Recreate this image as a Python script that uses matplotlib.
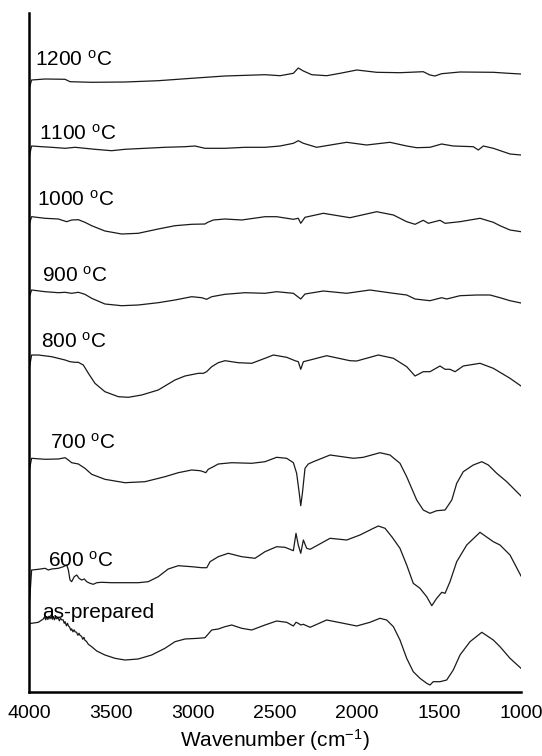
import matplotlib
matplotlib.use("Agg")
import matplotlib.pyplot as plt

plt.rcParams["font.family"] = "Liberation Sans"
plt.rcParams["mathtext.fontset"] = "custom"
plt.rcParams["mathtext.rm"] = "Liberation Sans"
plt.rcParams["mathtext.default"] = "regular"

# spectra, wavenumber (cm-1) and signal relative to the start of each trace
wn_1200 = [3998, 3984, 3902, 3780, 3750, 3618, 3415, 3212, 3008, 2805, 2561, 2469, 2388, 2358, 2327,
           2276, 2185, 2103, 2001, 1880, 1738, 1596, 1555, 1525, 1484, 1372, 1169, 1077, 1000]
y_1200 = [-8, 0, 1, 0.7, -1.7, -2.3, -2, -0.7, 1.7, 4, 5.3, 4.3, 6.7, 12, 9,
          5.3, 4.3, 6.7, 10, 7.7, 7.3, 8.3, 5, 4, 6.3, 8, 7.7, 6.7, 6]

wn_1100 = [3998, 3984, 3923, 3862, 3780, 3719, 3659, 3598, 3496, 3415, 3293, 3171, 3049, 2988, 2927,
           2805, 2683, 2561, 2469, 2388, 2358, 2327, 2246, 2063, 1941, 1799, 1697, 1636, 1555, 1484,
           1413, 1291, 1260, 1230, 1169, 1108, 1067, 1000]
y_1100 = [-10, 0, -0.7, -1.3, -2.3, -1.3, -2.3, -3.3, -4.7, -3.3, -2.3, -1.3, -0.7, 0, -2.3,
          -2.3, -1.3, -1.3, 0, 2.7, 5.3, 2.7, -1.3, 3.7, 1, 3.7, 0, -1.7, -1.3, 2,
          0, -0.7, -4, 0, -2.3, -5.7, -8, -9]

wn_1000 = [3998, 3984, 3902, 3821, 3770, 3740, 3699, 3659, 3618, 3537, 3435, 3334, 3212, 3110, 3008,
           2927, 2910, 2876, 2805, 2703, 2561, 2490, 2388, 2358, 2343, 2317, 2205, 2043, 1880, 1778,
           1697, 1646, 1596, 1565, 1494, 1463, 1372, 1250, 1169, 1128, 1067, 1000]
y_1000 = [-7.3, 0, -1.6, -2.3, -5, -3.3, -3, -5.6, -9, -14.3, -17.3, -16.6, -12.3, -9, -7.6,
          -7.3, -5.6, -3.3, -2.3, -3.3, 0, 0, -2.6, -1.6, -6.6, -0.6, 3.4, -1, 5, 1.7,
          -5, -7.6, -3.6, -6.6, -3.6, -6.6, -5, -1.6, -5.6, -9, -13.3, -15]

wn_900 = [3998, 3984, 3902, 3821, 3780, 3740, 3699, 3659, 3618, 3537, 3435, 3334, 3212, 3110, 3008,
          2947, 2917, 2886, 2805, 2683, 2561, 2490, 2388, 2343, 2317, 2205, 2063, 1921, 1778, 1697,
          1646, 1555, 1484, 1453, 1372, 1270, 1189, 1128, 1067, 1000]
y_900 = [-7, 0, -1.7, -2.7, -2.3, -3.3, -2.3, -4.3, -8.3, -14, -15.7, -15, -12.7, -10, -6.7,
         -7.7, -9.3, -6.7, -4.3, -2.7, -3.3, -1.7, -3.3, -9, -4, -1, -3.3, 0, -3.3, -5,
         -9, -10.7, -7.7, -9, -5.7, -5, -5, -7.7, -10.7, -13]

wn_800 = [3998, 3984, 3943, 3862, 3780, 3750, 3719, 3699, 3669, 3638, 3598, 3537, 3455, 3394, 3313,
          3212, 3110, 3049, 2967, 2937, 2917, 2886, 2846, 2805, 2724, 2642, 2561, 2510, 2429, 2378,
          2358, 2343, 2327, 2286, 2185, 2043, 2002, 1870, 1778, 1697, 1646, 1596, 1555, 1494, 1463,
          1433, 1402, 1352, 1250, 1169, 1067, 1000]
y_800 = [-13, 0, 0, -1.7, -5, -6.7, -7.3, -7.3, -10, -18.3, -28.3, -36.7, -41.7, -42.3, -40,
         -35, -25, -21, -18.3, -18.3, -16.7, -11.7, -7.7, -5.7, -7.7, -8.3, -3.3, 0, -2.3, -5.7,
         -6.7, -14.3, -6.7, -5, -0.7, -5.7, -6, 0, -3.3, -11.7, -21, -16.7, -16.7, -11, -14.3,
         -14.3, -16.7, -11, -8.3, -13.3, -23.3, -31]

wn_700 = [3998, 3984, 3902, 3821, 3780, 3760, 3740, 3699, 3659, 3618, 3537, 3415, 3293, 3171, 3090,
          3008, 2957, 2937, 2922, 2907, 2876, 2846, 2764, 2642, 2561, 2490, 2429, 2388, 2368, 2352,
          2343, 2333, 2317, 2297, 2266, 2164, 2022, 1961, 1860, 1799, 1738, 1697, 1636, 1596, 1555,
          1514, 1463, 1422, 1392, 1352, 1291, 1239, 1199, 1148, 1087, 1067, 1000]
y_700 = [-11.7, 0, -1, -0.7, 0.6, -1.7, -4.4, -5.7, -10, -16, -21, -24.4, -23.4, -18.4, -14.4,
         -11.7, -12.4, -13.4, -14.4, -11, -8.4, -5.7, -4.4, -5, -3.4, 1, 0, -4.4, -15, -35,
         -47.4, -35, -10, -5.7, -3.4, 3.3, 0, 1, 5.6, 3.3, -5, -18.4, -41.7, -51.7, -55,
         -52.4, -51.7, -41.7, -25, -13.4, -6.7, -3.4, -6.7, -15, -23.4, -26.7, -37.7]

wn_600 = [3998, 3984, 3943, 3902, 3882, 3862, 3821, 3791, 3770, 3760, 3750, 3740, 3724, 3709, 3695,
          3679, 3663, 3648, 3628, 3608, 3587, 3557, 3496, 3415, 3334, 3273, 3212, 3151, 3090, 3008,
          2947, 2916, 2896, 2846, 2785, 2703, 2622, 2561, 2490, 2439, 2388, 2372, 2358, 2343, 2327,
          2307, 2286, 2164, 2063, 1982, 1900, 1870, 1829, 1788, 1738, 1697, 1657, 1616, 1575, 1544,
          1514, 1483, 1463, 1433, 1392, 1331, 1250, 1169, 1128, 1067, 1000]
y_600 = [-35, 0, 0.7, 1.7, 0, 1, 1.7, 3.3, 5, 0, -10, -11.7, -6.7, -5, -8.3,
         -10, -9, -11.7, -13.3, -14.3, -12.7, -12.3, -12.7, -12.7, -12.7, -11.7, -6.7, 1, 4.3, 3.3,
         2.3, 2.3, 8.3, 13.3, 16.7, 13.3, 11.7, 18.3, 23.3, 22.7, 19.3, 36.7, 25, 16.7, 30,
         21.7, 20.7, 31.7, 30, 35, 41.7, 44, 41.7, 33.3, 21.7, 5, -13.3, -18.3, -26.7, -35.7,
         -28.3, -22.3, -23.3, -11.7, 8.3, 25, 37.7, 28.3, 25, 15, -6]

wn_asp = [3998, 3984, 3943, 3913, 3905, 3898, 3892, 3885, 3878, 3872, 3865, 3858, 3852, 3845, 3838,
          3831, 3822, 3815, 3808, 3801, 3792, 3785, 3780, 3772, 3765, 3760, 3752, 3745, 3740, 3732,
          3725, 3719, 3710, 3702, 3695, 3689, 3680, 3672, 3665, 3659, 3650, 3638, 3618, 3587, 3537,
          3476, 3415, 3334, 3252, 3171, 3110, 3049, 2968, 2927, 2916, 2886, 2846, 2805, 2764, 2703,
          2642, 2561, 2490, 2429, 2388, 2372, 2358, 2343, 2327, 2286, 2185, 2083, 2002, 1921, 1860,
          1819, 1778, 1738, 1697, 1657, 1616, 1575, 1555, 1535, 1494, 1453, 1413, 1372, 1311, 1239,
          1169, 1128, 1067, 1000]
y_asp = [0, 0, 1, 4.3, 6.5, 3.5, 6.6, 3.8, 7, 4.5, 7, 4, 6.6, 3.5, 6,
         4.5, 5.5, 2.5, 5, 3.5, 3.5, 0, 1.6, -2.5, 0, -2.5, -4, -7, -5.5, -8.5,
         -6.5, -8.5, -9, -12, -10, -12, -13, -16, -14, -17, -18, -21, -23.4, -27.7, -31.7,
         -35, -36.7, -35.7, -31.7, -25, -18.4, -15.7, -15, -14.4, -12.4, -6.7, -5.7, -3.4, -1.7, -5,
         -6.7, -1.7, 2.3, 1, -2.7, 1, 0, -1.7, -1, -4, 3.3, 0, -2.7, 1, 5,
         3.3, -3.4, -16.7, -35, -48.4, -55, -60, -61.7, -58.4, -58.4, -56.7, -46.7, -31.7, -18.4, -9,
         -16.7, -23.4, -35, -45]

names = ["1200 $^{o}$C", "1100 $^{o}$C", "1000 $^{o}$C", "900 $^{o}$C",
         "800 $^{o}$C", "700 $^{o}$C", "600 $^{o}$C", "as-prepared"]
wns = [wn_1200, wn_1100, wn_1000, wn_900, wn_800, wn_700, wn_600, wn_asp]
ys = [y_1200, y_1100, y_1000, y_900, y_800, y_700, y_600, y_asp]
offsets = [612, 546, 475.3, 402, 337, 233.7, 122, 68.7]

fig = plt.figure(figsize=(5.42, 7.56), dpi=100)
ax = fig.add_axes([29 / 542, 64 / 756, 492 / 542, 679 / 756])

for wn, y, off in zip(wns, ys, offsets):
    ax.plot(wn, [v + off for v in y], color="#1a1a1a", lw=0.9)

# label placement (wavenumber, height)
label_pos = [(3963, 626), (3939, 552), (3951, 486), (3921, 410),
             (3927, 344), (3872, 243), (3884, 125), (3921, 74)]
for name, (lx, ly) in zip(names, label_pos):
    ax.text(lx, ly, name, fontsize=15, ha="left", va="baseline")

ax.set_xlim(4000, 1000)
ax.set_ylim(0, 679)
ax.set_xticks([4000, 3500, 3000, 2500, 2000, 1500, 1000])
ax.set_yticks([])
ax.tick_params(axis="x", length=0, pad=9, labelsize=14)
for s in ["top", "right"]:
    ax.spines[s].set_visible(False)
ax.spines["left"].set_linewidth(1.8)
ax.spines["bottom"].set_linewidth(1.8)
ax.set_xlabel("Wavenumber (cm$^{-1}$)", fontsize=15, labelpad=4)

fig.savefig("out.png", dpi=100)
